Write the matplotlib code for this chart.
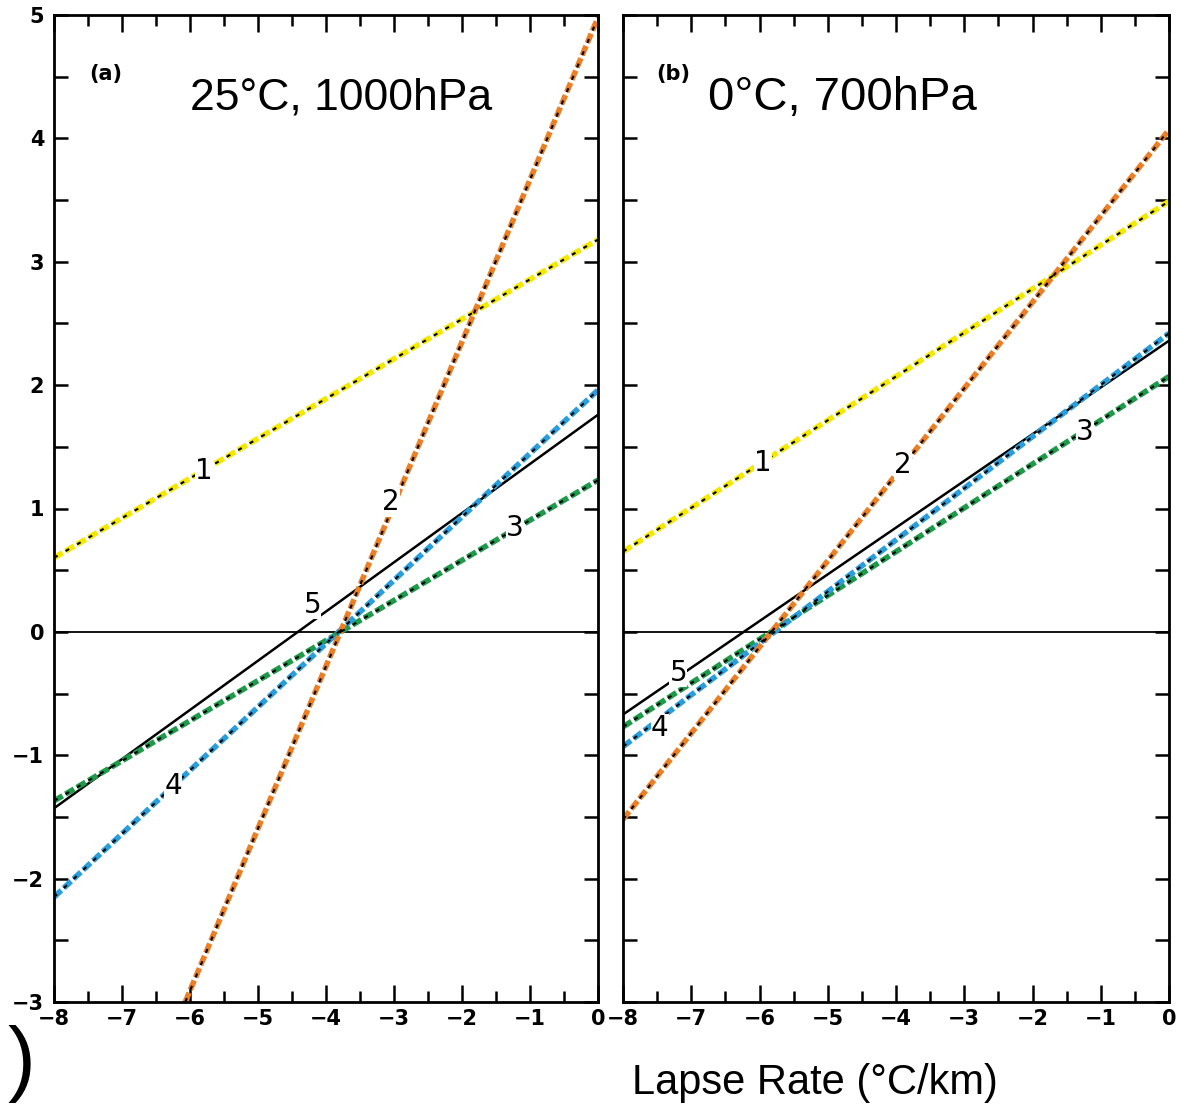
import matplotlib.pyplot as plt
from matplotlib.ticker import MultipleLocator

# straight lines, so each curve is given by its two end points (x, y)
# panel (a): 25C, 1000hPa
a_x = {1: [-8, 0], 2: [-6.07, 0], 3: [-8, 0], 4: [-8, 0], 5: [-8, 0]}
a_y = {1: [0.60, 3.18], 2: [-3.0, 4.98], 3: [-1.37, 1.23], 4: [-2.15, 1.96], 5: [-1.43, 1.76]}
# panel (b): 0C, 700hPa
b_x = {1: [-8, 0], 2: [-8, 0], 3: [-8, 0], 4: [-8, 0], 5: [-8, 0]}
b_y = {1: [0.65, 3.49], 2: [-1.52, 4.07], 3: [-0.77, 2.07], 4: [-0.93, 2.42], 5: [-0.67, 2.36]}

# where the curve numbers sit
a_lab = {1: (-5.8, 1.3), 2: (-3.05, 1.05), 3: (-1.22, 0.84), 4: (-6.25, -1.25), 5: (-4.2, 0.22)}
b_lab = {1: (-5.95, 1.37), 2: (-3.9, 1.35), 3: (-1.23, 1.62), 4: (-7.46, -0.78), 5: (-7.19, -0.33)}

titles = ['25°C, 1000hPa', '0°C, 700hPa']
title_size = [32, 34]
tags = ['(a)', '(b)']
xticks = ['−8', '−7', '−6', '−5', '−4', '−3', '−2', '−1', '0']
yticks = ['−3', '−2', '−1', '0', '1', '2', '3', '4', '5']

colors = {1: '#f4e800', 2: '#ea7f26', 3: '#1f9a4b', 4: '#2a9ddb'}

fig = plt.figure(figsize=(11.88, 11.11), dpi=100)
ax_a = fig.add_axes([54 / 1188, 109 / 1111, 544 / 1188, 987 / 1111])
ax_b = fig.add_axes([623 / 1188, 109 / 1111, 546 / 1188, 987 / 1111])

for i, (ax, xs, ys, labs) in enumerate([(ax_a, a_x, a_y, a_lab), (ax_b, b_x, b_y, b_lab)]):
    ax.set_xlim(-8, 0)
    ax.set_ylim(-3, 5)
    ax.axhline(0, color='black', lw=1.3, zorder=1)

    for k in [5, 3, 4, 1, 2]:
        if k == 5:
            ax.plot(xs[k], ys[k], color='black', lw=1.8, zorder=2)
        else:
            # colour dashes with small black dashes on top, like the scanned figure
            ax.plot(xs[k], ys[k], color=colors[k], lw=4.0, dashes=(1.8, 0.6), zorder=2)
            ax.plot(xs[k], ys[k], color='black', lw=1.5, dashes=(2.0, 4.4), zorder=3)

    for k, (lx, ly) in labs.items():
        ax.text(lx, ly, str(k), fontsize=20, ha='center', va='center', zorder=4,
                bbox=dict(facecolor='white', edgecolor='none', pad=0.2))

    ax.text(0.065 if i == 0 else 0.06, 0.94, tags[i], transform=ax.transAxes,
            fontsize=15, fontweight='bold', ha='left', va='center')
    ax.text(0.25 if i == 0 else 0.155, 0.916, titles[i], transform=ax.transAxes,
            fontsize=title_size[i], family='Liberation Sans', ha='left', va='center')

    ax.set_xticks(range(-8, 1))
    ax.set_xticklabels(xticks, fontsize=15, fontweight='bold')
    ax.set_yticks(range(-3, 6))
    ax.xaxis.set_minor_locator(MultipleLocator(0.5))
    ax.yaxis.set_minor_locator(MultipleLocator(0.5))
    ax.tick_params(which='both', direction='in', top=True, right=True, width=1.8, colors='black')
    ax.tick_params(axis='x', which='major', length=12, pad=5)
    ax.tick_params(axis='x', which='minor', length=8)
    ax.tick_params(axis='y', which='both', length=10, pad=7)
    for sp in ax.spines.values():
        sp.set_linewidth(2)

ax_a.set_yticklabels(yticks, fontsize=15, fontweight='bold')
ax_b.set_yticklabels([])

fig.text(815 / 1188, 1 - 1083 / 1111, 'Lapse Rate (°C/km)', fontsize=30,
         family='Liberation Sans', ha='center', va='center')
# cut-off bracket at the lower left corner of the scan
fig.text(21 / 1188, 1 - 1064 / 1111, ')', fontsize=60, family='Liberation Sans',
         ha='center', va='center')

fig.savefig('out.png', dpi=100)
